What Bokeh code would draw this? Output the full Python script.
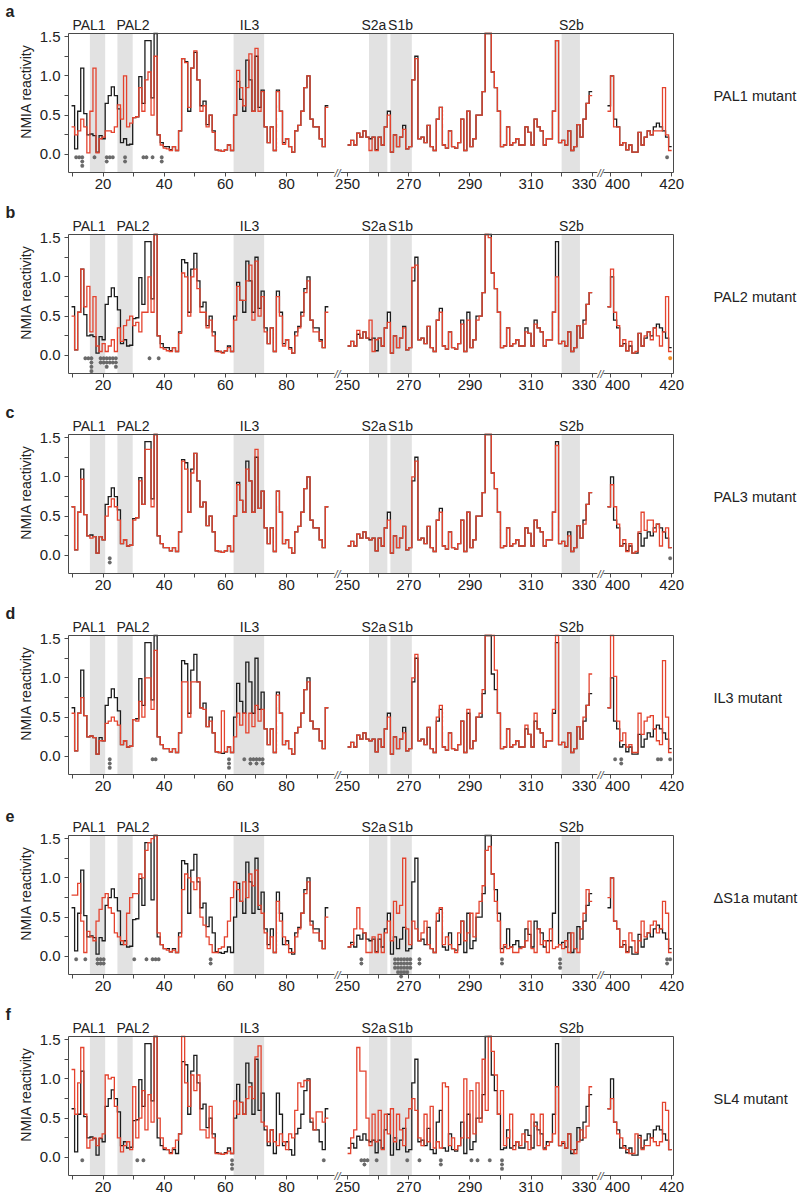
import math
from bokeh.plotting import figure
from bokeh.models import (Range1d, FixedTicker, Label, BoxAnnotation, LinearAxis,
                          PrintfTickFormatter)
from bokeh.layouts import column
from bokeh.embed import file_html
from bokeh.resources import INLINE

# ---------------- data ----------------
NT_S1 = list(range(10, 94))     # nucleotides 10-93
NT_S2 = list(range(250, 330))   # nucleotides 250-329
NT_S3 = list(range(399, 420))   # nucleotides 399-419

WT_S1 = [0.62,0.07,0.55,1.10,0.52,0.25,0.26,0.24,0.03,0.24,
         0.20,0.65,0.75,0.86,0.75,0.58,0.15,0.20,0.12,0.13,
         0.47,0.48,0.99,0.65,1.45,1.45,0.72,1.60,0.25,0.15,
         0.10,0.10,0.06,0.10,0.05,0.30,1.22,1.18,0.55,1.10,
         1.30,0.95,0.62,0.68,0.38,0.50,0.30,0.06,0.05,0.04,
         0.06,0.12,0.05,0.50,0.93,0.70,0.55,1.20,0.95,0.55,
         1.25,0.60,0.82,0.35,0.15,0.35,0.05,0.82,0.55,0.15,
         0.20,0.10,0.03,0.30,0.37,0.55,0.85,1.00,0.45,0.35,
         0.35,0.20,0.10,0.62]
WT_S2 = [0.12,0.18,0.12,0.27,0.22,0.30,0.22,0.20,0.22,0.06,
         0.22,0.12,0.35,0.55,0.03,0.25,0.10,0.22,0.37,0.07,
         0.10,0.95,1.25,0.20,0.22,0.15,0.37,0.10,0.05,0.45,
         0.60,0.12,0.08,0.30,0.10,0.08,0.15,0.45,0.05,0.55,
         0.10,0.20,0.50,0.50,0.80,1.60,1.60,1.05,0.85,0.55,
         0.10,0.12,0.35,0.12,0.15,0.20,0.12,0.12,0.35,0.28,
         0.12,0.45,0.35,0.30,0.12,0.20,0.20,0.55,1.45,0.15,
         0.18,0.12,0.30,0.05,0.10,0.38,0.22,0.45,0.65,0.80]
WT_S3 = [0.62,1.00,0.45,0.35,0.12,0.15,0.06,0.12,0.03,0.03,
         0.28,0.12,0.22,0.30,0.25,0.35,0.40,0.35,0.30,0.22,0.10]

RED_A_S1 = [0.35,0.25,0.30,0.45,0.35,0.02,0.55,1.10,0.02,0.20,
            0.22,0.30,0.30,0.28,0.35,0.63,0.45,1.00,0.35,0.40,
            0.47,0.48,0.85,0.55,0.95,1.05,0.50,1.25,0.25,0.12,
            0.08,0.07,0.05,0.10,0.05,0.30,1.22,1.17,0.60,1.10,
            1.32,0.95,0.55,0.62,0.35,0.50,0.28,0.06,0.05,0.04,
            0.06,0.12,0.05,0.50,1.07,0.85,0.62,0.85,1.28,0.55,
            1.35,0.55,0.80,0.35,0.15,0.35,0.05,0.80,0.55,0.13,
            0.20,0.10,0.03,0.30,0.37,0.55,0.85,1.00,0.45,0.35,
            0.35,0.20,0.10,0.60]
RED_A_S2 = [0.12,0.18,0.12,0.27,0.22,0.30,0.22,0.05,0.22,0.05,
            0.22,0.12,0.35,0.50,0.03,0.25,0.10,0.22,0.32,0.07,
            0.10,0.95,1.22,0.20,0.22,0.15,0.37,0.10,0.05,0.45,
            0.60,0.12,0.08,0.30,0.10,0.08,0.15,0.45,0.05,0.55,
            0.10,0.20,0.50,0.50,0.80,1.60,1.60,1.05,0.85,0.55,
            0.10,0.12,0.35,0.12,0.15,0.20,0.12,0.12,0.35,0.28,
            0.12,0.45,0.35,0.30,0.12,0.20,0.20,0.55,1.45,0.15,
            0.18,0.12,0.30,0.05,0.10,0.38,0.22,0.45,0.65,0.75]
RED_A_S3 = [0.55,1.00,0.35,0.35,0.12,0.15,0.06,0.12,0.03,0.03,
            0.28,0.12,0.22,0.30,0.25,0.30,0.30,0.30,0.85,0.25,0.05]

RED_B_S1 = [0.50,0.07,0.55,1.10,0.62,0.88,0.30,0.75,0.12,0.05,
            0.15,0.05,0.12,0.20,0.05,0.35,0.18,0.38,0.45,0.50,
            0.38,0.42,0.30,0.55,0.55,1.00,0.55,1.55,0.25,0.10,
            0.08,0.06,0.05,0.10,0.05,0.28,1.05,1.00,0.50,1.00,
            1.10,0.85,0.55,0.55,0.35,0.45,0.25,0.05,0.05,0.03,
            0.06,0.10,0.05,0.45,0.88,0.70,0.70,0.95,1.15,0.45,
            1.20,0.50,0.75,0.30,0.15,0.35,0.05,0.75,0.50,0.12,
            0.20,0.08,0.03,0.25,0.35,0.50,0.80,0.95,0.45,0.30,
            0.30,0.18,0.10,0.55]
RED_B_S2 = [0.12,0.18,0.12,0.32,0.22,0.30,0.22,0.45,0.05,0.20,
            0.22,0.12,0.35,0.42,0.03,0.25,0.10,0.22,0.35,0.07,
            0.10,1.12,1.15,0.20,0.22,0.15,0.37,0.10,0.05,0.45,
            0.55,0.12,0.08,0.30,0.10,0.08,0.15,0.40,0.05,0.45,
            0.10,0.20,0.45,0.50,0.80,1.60,1.50,1.05,0.85,0.55,
            0.10,0.12,0.35,0.12,0.15,0.20,0.12,0.12,0.30,0.28,
            0.12,0.40,0.35,0.30,0.12,0.20,0.20,0.55,1.00,0.15,
            0.18,0.12,0.30,0.05,0.10,0.38,0.22,0.40,0.65,0.80]
RED_B_S3 = [0.62,1.10,0.55,0.38,0.12,0.20,0.06,0.18,0.03,0.05,
            0.28,0.12,0.25,0.30,0.20,0.35,0.25,0.12,0.30,0.75,0.05]

RED_C_S1 = [0.62,0.07,0.55,0.97,0.52,0.25,0.22,0.24,0.03,0.24,
            0.20,0.50,0.62,0.72,0.62,0.45,0.15,0.20,0.12,0.13,
            0.45,0.48,0.95,0.65,1.35,1.35,0.62,1.60,0.25,0.15,
            0.10,0.10,0.06,0.10,0.05,0.30,1.20,1.10,0.55,1.05,
            1.30,0.95,0.62,0.68,0.38,0.50,0.30,0.06,0.05,0.04,
            0.06,0.12,0.05,0.50,0.90,0.70,0.55,1.10,0.95,0.55,
            1.35,0.60,0.82,0.35,0.15,0.35,0.05,0.82,0.55,0.15,
            0.20,0.10,0.03,0.30,0.37,0.55,0.85,1.00,0.45,0.35,
            0.35,0.20,0.10,0.62]
RED_C_S2 = [0.12,0.18,0.12,0.27,0.22,0.30,0.22,0.20,0.22,0.06,
            0.22,0.12,0.35,0.45,0.03,0.25,0.10,0.22,0.37,0.07,
            0.10,1.00,1.20,0.20,0.22,0.15,0.37,0.10,0.05,0.45,
            0.55,0.12,0.08,0.30,0.10,0.08,0.15,0.45,0.05,0.55,
            0.10,0.20,0.50,0.50,0.80,1.60,1.55,1.05,0.85,0.55,
            0.10,0.12,0.35,0.12,0.15,0.20,0.12,0.12,0.35,0.28,
            0.12,0.45,0.35,0.30,0.12,0.20,0.20,0.55,1.40,0.15,
            0.18,0.12,0.25,0.05,0.10,0.38,0.22,0.40,0.65,0.80]
RED_C_S3 = [0.62,0.90,0.62,0.40,0.12,0.20,0.05,0.15,0.03,0.05,
            0.30,0.55,0.32,0.45,0.45,0.30,0.40,0.12,0.30,0.35,0.10]

RED_D_S1 = [0.55,0.07,0.55,0.75,0.52,0.25,0.26,0.24,0.03,0.20,
            0.20,0.42,0.45,0.50,0.45,0.40,0.15,0.20,0.12,0.13,
            0.47,0.45,0.70,0.50,1.00,1.00,0.60,1.35,0.25,0.15,
            0.10,0.10,0.06,0.10,0.05,0.30,0.95,0.95,0.50,0.95,
            0.95,0.95,0.62,0.60,0.38,0.45,0.30,0.06,0.05,0.58,
            0.06,0.12,0.05,0.25,0.55,0.40,0.55,0.30,0.55,0.38,
            0.65,0.45,0.60,0.35,0.15,0.35,0.05,0.78,0.55,0.15,
            0.20,0.10,0.03,0.30,0.37,0.55,0.85,0.95,0.45,0.35,
            0.35,0.20,0.10,0.62]
RED_D_S2 = [0.12,0.18,0.12,0.27,0.22,0.30,0.22,0.20,0.22,0.06,
            0.22,0.12,0.35,0.50,0.03,0.25,0.10,0.22,0.30,0.07,
            0.10,1.00,1.30,0.20,0.22,0.15,0.37,0.10,0.05,0.50,
            0.65,0.12,0.08,0.30,0.10,0.08,0.15,0.45,0.05,0.60,
            0.10,0.20,0.50,0.55,0.85,1.60,1.60,1.60,1.10,0.55,
            0.10,0.12,0.35,0.12,0.15,0.20,0.12,0.12,0.40,0.28,
            0.12,0.55,0.35,0.30,0.12,0.20,0.20,0.60,1.60,0.15,
            0.18,0.12,0.30,0.05,0.10,0.38,0.22,0.50,0.65,1.05]
RED_D_S3 = [0.62,1.60,1.02,0.45,0.20,0.30,0.12,0.15,0.05,0.05,
            0.55,0.28,0.45,0.50,0.52,0.35,0.20,0.15,1.22,0.50,0.05]

RED_E_S1 = [0.78,0.78,0.93,0.45,0.05,0.32,0.25,0.20,0.45,0.60,
            0.75,0.80,0.62,0.55,0.30,0.25,0.20,0.15,0.55,0.75,
            0.80,0.80,1.05,1.00,1.35,1.45,1.50,1.60,0.30,0.15,
            0.10,0.08,0.06,0.08,0.05,0.25,0.85,1.05,1.00,0.95,
            0.85,1.00,0.50,0.40,0.25,0.15,0.05,0.05,0.10,0.12,
            0.25,0.45,0.75,0.95,0.85,0.70,0.95,0.75,1.05,0.90,
            1.10,0.65,0.55,0.30,0.10,0.25,0.05,0.70,0.45,0.25,
            0.15,0.05,0.05,0.25,0.35,0.55,0.80,0.95,0.40,0.30,
            0.30,0.20,0.10,0.50]
RED_E_S2 = [0.12,0.15,0.35,0.62,0.35,0.30,0.05,0.05,0.25,0.05,
            0.28,0.05,0.30,0.45,0.20,0.70,0.55,0.65,1.25,0.35,
            0.15,0.45,0.35,0.20,0.30,0.45,0.15,0.10,0.05,0.55,
            0.62,0.15,0.25,0.15,0.10,0.05,0.30,0.45,0.20,0.30,
            0.55,0.25,0.55,0.70,0.90,1.35,1.40,1.05,0.70,0.45,
            0.05,0.15,0.10,0.12,0.05,0.05,0.10,0.12,0.20,0.45,
            0.10,0.05,0.35,0.15,0.20,0.05,0.35,0.10,0.12,0.15,
            0.10,0.20,0.05,0.30,0.10,0.05,0.35,0.55,0.85,0.70]
RED_E_S3 = [0.75,1.00,0.45,0.35,0.12,0.20,0.05,0.30,0.20,0.05,
            0.20,0.45,0.25,0.30,0.40,0.45,0.30,0.35,0.70,0.55,0.05]

RED_F_S1 = [1.12,0.55,0.95,1.40,0.55,0.12,0.22,0.25,0.15,0.25,
            0.30,1.05,1.00,1.02,0.65,0.25,0.07,0.15,0.20,0.10,
            0.90,0.25,0.50,0.85,0.35,0.80,0.45,1.60,0.50,0.25,
            0.12,0.10,0.05,0.12,0.22,0.30,1.60,0.95,0.65,1.05,
            0.85,1.05,0.35,0.35,0.25,0.65,0.25,0.05,0.05,0.04,
            0.05,0.08,0.05,0.72,0.55,0.70,0.55,0.75,0.90,0.75,
            1.28,1.42,0.45,0.40,0.20,0.35,0.20,0.15,0.30,0.20,
            0.10,0.30,0.25,0.60,0.95,0.90,0.98,0.98,0.50,0.35,
            0.58,0.58,0.45,0.50]
RED_F_S2 = [0.05,0.25,0.35,1.40,1.10,1.10,0.50,0.15,0.55,0.20,
            0.60,0.10,0.55,0.30,0.62,0.20,0.55,0.35,0.15,0.50,
            0.62,0.75,0.60,0.25,0.15,0.55,0.20,0.65,0.12,0.20,
            0.12,0.95,0.90,0.15,0.25,0.10,0.15,0.25,1.00,0.25,
            0.85,0.30,0.95,0.45,1.25,0.60,1.60,1.35,1.05,0.55,
            0.85,0.15,0.25,0.55,0.10,0.20,0.15,0.30,0.20,0.10,
            0.55,0.40,0.15,0.55,0.10,0.15,0.20,0.30,0.90,0.15,
            0.20,0.12,0.30,0.10,0.05,0.20,0.35,0.25,0.40,0.90]
RED_F_S3 = [0.62,0.75,0.45,0.30,0.25,0.12,0.10,0.05,0.05,0.30,
            0.25,0.10,0.15,0.15,0.25,0.20,0.15,0.20,0.70,0.60,0.10]

# significance marks: nucleotide and number of stacked asterisks
AST_A_NT = [11,12,13,17,21,22,23,27,33,34,36,39,418]
AST_A_N  = [1,1,3,1,2,1,1,2,1,1,1,2,1]
AST_B_NT = [14,15,16,19,20,21,22,23,24,35,38]
AST_B_N  = [1,1,4,2,2,3,2,2,3,1,1]
AST_C_NT = [22,419]
AST_C_N  = [2,1]
AST_D_NT = [22,36,37,61,66,68,69,70,71,72,401,403,415,416,419]
AST_D_N  = [3,1,1,3,1,2,1,2,1,2,1,2,1,1,1]
AST_E_NT = [11,14,18,19,20,30,34,36,37,38,55,254,265,266,267,268,269,270,273,300,319,418,419]
AST_E_N  = [1,1,2,2,2,1,1,1,1,1,2,2,3,4,5,4,4,3,2,2,3,2,1]
AST_F_NT = [13,31,33,62,92,254,255,256,259,269,273,280,290,292,296,300]
AST_F_N  = [1,1,1,3,1,1,2,1,1,1,1,2,1,1,1,3]
# marks printed in orange instead of grey
ORANGE_NT = [[], [419], [], [], [], []]

PANEL_LETTERS = ["a", "b", "c", "d", "e", "f"]
PANEL_NAMES = ["PAL1 mutant", "PAL2 mutant", "PAL3 mutant", "IL3 mutant",
               "\u0394S1a mutant", "SL4 mutant"]

REGION_NAMES = ["PAL1", "PAL2", "IL3", "S2a", "S1b", "S2b"]
REGION_FIRST = [16, 25, 63, 257, 264, 320]
REGION_LAST  = [20, 29, 72, 262, 270, 325]
REGION_LABEL_AT = [15.4, 29.8, 67.9, 258.6, 267.3, 323.2]

X_TICK_NT = [10,20,30,40,50,60,70,80,90,250,260,270,280,290,300,310,320,330,400,410,420]
X_TICK_LABEL = ["","20","","40","","60","","80","","250","","270","","290","","310","","330","400","","420"]
Y_TICKS = [0.0, 0.5, 1.0, 1.5]
Y_MINOR = [0.25, 0.75, 1.25]

# ---------------- style / geometry ----------------
FONT = "Liberation Sans"
FRAME = "#4a4a4a"
TXT = "#222222"
BLACK = "#1c1c1c"
RED = "#e4432e"
ORANGE = "#f08a24"
BAND = "#e2e2e2"
AST = "#6a6a6a"
X0, X1 = 8.7, 206.6          # plot box (data units on the broken axis)
Y0, Y1 = -0.23, 1.54
BOX_W, BOX_H = 605, 139      # plot box size in px
BOX_LEFT, BOX_TOP = 68, 33   # plot box position inside each figure
FIG_W = 800
FIG_H = [201, 200, 201, 200, 201, 192]
PX_PER_X = BOX_W / (X1 - X0)
PX_PER_Y = BOX_H / (Y1 - Y0)
XL = X0 - BOX_LEFT / PX_PER_X
XR = XL + FIG_W / PX_PER_X


def xpos(n):
    """map a nucleotide number onto the broken x axis"""
    if n < 200:
        return n
    if n < 360:
        return n - 150
    return n - 214


def seg_off(n):
    return -0.3 if n < 200 else 0.0


def step_xy(nts, vals):
    xs, ys = [], []
    for n, v in zip(nts, vals):
        x = xpos(n) + seg_off(n)
        v = min(v, Y1)  # values above the box are clipped at its top edge
        xs += [x, x + 1]
        ys += [v, v]
    return xs, ys


def txt(x, y, text, size="14px", align="center", baseline="bottom",
        style="normal", angle=0.0, **kw):
    return Label(x=x, y=y, text=text, text_align=align, text_baseline=baseline,
                 text_font=FONT, text_font_size=size, text_font_style=style,
                 text_color=TXT, angle=angle, **kw)


def make_panel(idx, reds, ast_nt, ast_n, orange_nt):
    H = FIG_H[idx]
    bot_px = H - BOX_TOP - BOX_H
    y_top = Y1 + BOX_TOP / PX_PER_Y
    y_bot = Y0 - bot_px / PX_PER_Y
    p = figure(width=FIG_W, height=H, x_range=Range1d(XL, XR),
               y_range=Range1d(y_bot, y_top),
               output_backend="svg", toolbar_location=None,
               min_border=0, min_border_left=0, min_border_right=0,
               min_border_top=0, min_border_bottom=0)
    p.outline_line_color = None
    p.xgrid.visible = False
    p.ygrid.visible = False
    p.background_fill_color = "white"
    p.border_fill_color = "white"

    # shaded regions
    for first, lastn in zip(REGION_FIRST, REGION_LAST):
        p.add_layout(BoxAnnotation(left=xpos(first) + seg_off(first),
                                   right=xpos(lastn) + seg_off(lastn) + 1,
                                   bottom=Y0, top=Y1,
                                   fill_color=BAND, fill_alpha=1.0, line_color=None,
                                   level="underlay"))
    for name, at in zip(REGION_NAMES, REGION_LABEL_AT):
        p.add_layout(txt(xpos(at), Y1 + 0.5 / PX_PER_Y, name, size="14px"))

    # step profiles
    for nts, wt in zip((NT_S1, NT_S2, NT_S3), (WT_S1, WT_S2, WT_S3)):
        xs, ys = step_xy(nts, wt)
        p.line(xs, ys, line_color=BLACK, line_width=1.3, line_join="miter")
    for nts, rd in zip((NT_S1, NT_S2, NT_S3), reds):
        xs, ys = step_xy(nts, rd)
        p.line(xs, ys, line_color=RED, line_width=1.3, line_join="miter")

    # asterisks
    axs, ays = [], []
    for n, c in zip(ast_nt, ast_n):
        for k in range(c):
            axs.append(xpos(n) + seg_off(n) + 0.5)
            ays.append(-0.035 - 0.055 * k)
    p.scatter(axs, ays, marker="asterisk", size=4, line_color=AST, line_width=1.1)
    if orange_nt:
        p.scatter([xpos(n) + seg_off(n) + 0.5 for n in orange_nt],
                  [-0.035] * len(orange_nt), marker="asterisk", size=4,
                  line_color=ORANGE, line_width=1.2)

    # y axis, pinned at the left edge of the plot box
    ya = p.yaxis[0]
    ya.fixed_location = X0
    ya.bounds = (Y0, Y1)
    ya.ticker = FixedTicker(ticks=Y_TICKS, minor_ticks=Y_MINOR)
    ya.formatter = PrintfTickFormatter(format="%.1f")
    ya.major_label_text_font = FONT
    ya.major_label_text_font_size = "15px"
    ya.major_label_text_color = TXT
    ya.major_label_standoff = 4
    ya.axis_line_color = FRAME
    ya.major_tick_line_color = FRAME
    ya.minor_tick_line_color = FRAME
    ya.major_tick_out = 4
    ya.major_tick_in = 0
    ya.minor_tick_out = 4
    ya.minor_tick_in = 0
    p.add_layout(txt(XL + 25.5 / PX_PER_X, 0.80, "NMIA reactivity", size="14px",
                     baseline="middle", angle=math.pi / 2))

    # x axis, pinned at the bottom edge of the plot box
    xa = p.xaxis[0]
    xa.fixed_location = Y0
    xa.bounds = (X0, X1)
    xa.ticker = FixedTicker(ticks=[xpos(t) for t in X_TICK_NT], minor_ticks=[])
    overrides = {}
    for t, lab in zip(X_TICK_NT, X_TICK_LABEL):
        overrides[xpos(t)] = "" if t in (330, 400) else lab
    xa.major_label_overrides = overrides
    xa.major_label_text_font = FONT
    xa.major_label_text_font_size = "15px"
    xa.major_label_text_color = TXT
    xa.major_label_standoff = 2
    xa.axis_line_color = FRAME
    xa.major_tick_line_color = FRAME
    xa.major_tick_out = 4
    xa.major_tick_in = 0
    xa.minor_tick_line_color = None
    for t, lab, dx in ((330, "330", -8), (400, "400", 7)):
        p.add_layout(txt(xpos(t) + dx / PX_PER_X, Y0 - 6 / PX_PER_Y, lab, size="15px",
                         baseline="top"))

    # top and right edges of the plot box
    top_ax = LinearAxis(fixed_location=Y1, bounds=(X0, X1), ticker=FixedTicker(ticks=[]),
                        major_label_text_font_size="0px", major_tick_line_color=None,
                        minor_tick_line_color=None, axis_line_color=FRAME)
    p.add_layout(top_ax, "above")
    right_ax = LinearAxis(fixed_location=X1, bounds=(Y0, Y1), ticker=FixedTicker(ticks=[]),
                          major_label_text_font_size="0px", major_tick_line_color=None,
                          minor_tick_line_color=None, axis_line_color=FRAME)
    p.add_layout(right_ax, "right")

    # axis break marks
    for bx in (96.7, 182.7):
        p.add_layout(Label(x=bx, y=Y0, text="//", text_align="center",
                           text_baseline="middle", text_font=FONT,
                           text_font_size="11px", text_font_style="italic",
                           text_color=FRAME, background_fill_color="white"))

    # panel letter and mutant name
    p.add_layout(txt(XL + 5 / PX_PER_X, Y1 + 13.5 / PX_PER_Y, PANEL_LETTERS[idx],
                     size="16px", align="left", style="bold"))
    p.add_layout(txt(X0 + (713 - BOX_LEFT) / PX_PER_X, 0.74, PANEL_NAMES[idx],
                     size="14.5px", align="left", baseline="middle"))
    return p


ALL_REDS = [(RED_A_S1, RED_A_S2, RED_A_S3), (RED_B_S1, RED_B_S2, RED_B_S3),
            (RED_C_S1, RED_C_S2, RED_C_S3), (RED_D_S1, RED_D_S2, RED_D_S3),
            (RED_E_S1, RED_E_S2, RED_E_S3), (RED_F_S1, RED_F_S2, RED_F_S3)]
ALL_AST = [(AST_A_NT, AST_A_N), (AST_B_NT, AST_B_N), (AST_C_NT, AST_C_N),
           (AST_D_NT, AST_D_N), (AST_E_NT, AST_E_N), (AST_F_NT, AST_F_N)]

figs = [make_panel(i, ALL_REDS[i], ALL_AST[i][0], ALL_AST[i][1], ORANGE_NT[i])
        for i in range(6)]

layout = column(*figs, spacing=0)
open("out.html", "w").write(file_html(layout, INLINE))
